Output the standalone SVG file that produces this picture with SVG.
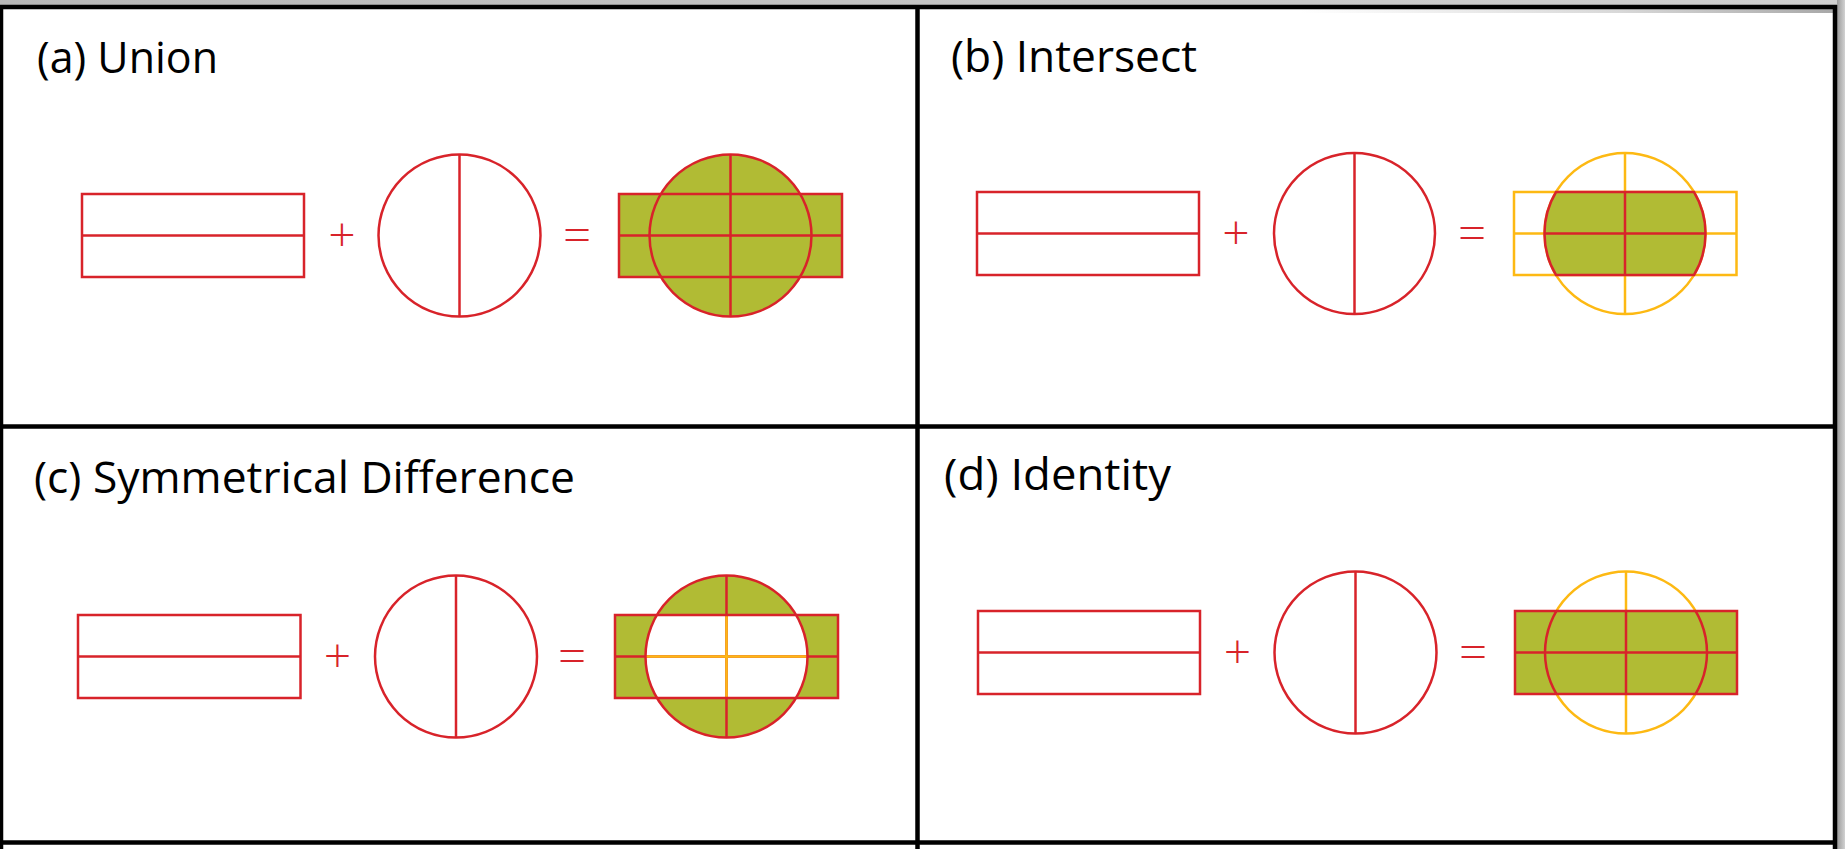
<svg xmlns="http://www.w3.org/2000/svg" width="1845" height="849" viewBox="0 0 1845 849">
<style>
.t{font-family:"Open Sans","Liberation Sans",sans-serif;font-size:44px;fill:#000}
.op{font-family:"Open Sans","Liberation Sans",sans-serif;font-size:48px;font-weight:300;fill:#d8232a;text-anchor:middle}
.eq{font-family:"Open Sans","Liberation Sans",sans-serif;font-size:50px;font-weight:300;fill:#d8232a;text-anchor:middle}
.r{fill:none;stroke:#d8232a;stroke-width:2.5}
.y{fill:none;stroke:#fdb913;stroke-width:2.5}
.g{fill:#b1bb34;stroke:none}
.frame{stroke:#000;stroke-width:4.5;fill:none}
</style>
<defs>
<linearGradient id="topg" x1="0" y1="0" x2="1" y2="0">
<stop offset="0" stop-color="#b8b8b8"/><stop offset="0.5" stop-color="#c4c4c4"/><stop offset="1" stop-color="#d0d0d0"/>
</linearGradient>
<linearGradient id="shd" x1="0" y1="0" x2="1" y2="0">
<stop offset="0" stop-color="#ffffff"/><stop offset="0.6" stop-color="#d8d8d8"/><stop offset="1" stop-color="#a8a8a8"/>
</linearGradient>
<linearGradient id="rg" x1="0" y1="0" x2="1" y2="0">
<stop offset="0" stop-color="#9a9a9a"/><stop offset="1" stop-color="#d2d2d2"/>
</linearGradient>
<clipPath id="clipD"><rect x="1515" y="611" width="222" height="83"/></clipPath>
</defs>
<rect width="1845" height="849" fill="#fff"/>
<rect x="0" y="0" width="1845" height="5" fill="url(#topg)"/>
<rect x="1300" y="9" width="535" height="4" fill="url(#shd)"/>
<rect x="1837" y="0" width="8" height="849" fill="url(#rg)"/>

<g id="frame">
<line class="frame" x1="0" y1="7" x2="1837" y2="7"/>
<line class="frame" x1="1" y1="5" x2="1" y2="849"/>
<line class="frame" x1="0" y1="426.5" x2="1835" y2="426.5"/>
<line class="frame" x1="0" y1="842.5" x2="1835" y2="842.5"/>
<line class="frame" x1="917.5" y1="5" x2="917.5" y2="849"/>
<line class="frame" x1="1835" y1="5" x2="1835" y2="849"/>
</g>

<g id="panel-a">
<text class="t" x="37" y="72.5" textLength="181" lengthAdjust="spacingAndGlyphs">(a) Union</text>
<rect class="r" x="82" y="194" width="222" height="83"/>
<line class="r" x1="82" y1="235.5" x2="304" y2="235.5"/>
<text class="op" x="342" y="252">+</text>
<circle class="r" cx="459.5" cy="235.5" r="81"/>
<line class="r" x1="459.5" y1="154.5" x2="459.5" y2="316.5"/>
<text class="eq" x="577" y="253">=</text>
<rect class="g" x="619" y="194" width="223" height="83"/>
<circle class="g" cx="730.5" cy="235.5" r="81"/>
<rect class="r" x="619" y="194" width="223" height="83"/>
<circle class="r" cx="730.5" cy="235.5" r="81"/>
<line class="r" x1="619" y1="235.5" x2="842" y2="235.5"/>
<line class="r" x1="730.5" y1="154.5" x2="730.5" y2="316.5"/>
</g>

<g id="panel-b">
<text class="t" x="951" y="72" textLength="246" lengthAdjust="spacingAndGlyphs">(b) Intersect</text>
<rect class="r" x="977" y="192" width="222" height="83"/>
<line class="r" x1="977" y1="233.5" x2="1199" y2="233.5"/>
<text class="op" x="1236" y="250">+</text>
<circle class="r" cx="1354.5" cy="233.5" r="80.5"/>
<line class="r" x1="1354.5" y1="153" x2="1354.5" y2="314"/>
<text class="eq" x="1472" y="251">=</text>
<rect class="y" x="1514" y="192" width="222.5" height="83"/>
<circle class="y" cx="1625" cy="233.5" r="80.5"/>
<line class="y" x1="1514" y1="233.5" x2="1736.5" y2="233.5"/>
<line class="y" x1="1625" y1="153" x2="1625" y2="314"/>
<path class="g" d="M1556,192 L1694,192 A80.5 80.5 0 0 1 1694,275 L1556,275 A80.5 80.5 0 0 1 1556,192 Z"/>
<path class="r" d="M1556,192 L1694,192 A80.5 80.5 0 0 1 1694,275 L1556,275 A80.5 80.5 0 0 1 1556,192 Z"/>
<line class="r" x1="1544.5" y1="233.5" x2="1705.5" y2="233.5"/>
<line class="r" x1="1625" y1="192" x2="1625" y2="275"/>
</g>

<g id="panel-c">
<text class="t" x="34" y="492.5" textLength="541" lengthAdjust="spacingAndGlyphs">(c) Symmetrical Difference</text>
<rect class="r" x="78" y="615" width="222.5" height="83"/>
<line class="r" x1="78" y1="656.5" x2="300.5" y2="656.5"/>
<text class="op" x="337.5" y="673">+</text>
<circle class="r" cx="456" cy="656.5" r="81"/>
<line class="r" x1="456" y1="575.5" x2="456" y2="737.5"/>
<text class="eq" x="572" y="674">=</text>
<rect class="g" x="615" y="615" width="223" height="83"/>
<circle class="g" cx="726.5" cy="656.5" r="81"/>
<path fill="#fff" d="M656.94,615 L796.06,615 A81 81 0 0 1 796.06,698 L656.94,698 A81 81 0 0 1 656.94,615 Z"/>
<line class="r" x1="615" y1="656.5" x2="838" y2="656.5"/>
<line class="r" x1="726.5" y1="575.5" x2="726.5" y2="737.5"/>
<line class="y" x1="645.5" y1="656.5" x2="807.5" y2="656.5"/>
<line class="y" x1="726.5" y1="615" x2="726.5" y2="698"/>
<rect class="r" x="615" y="615" width="223" height="83"/>
<circle class="r" cx="726.5" cy="656.5" r="81"/>
</g>

<g id="panel-d">
<text class="t" x="944" y="490" textLength="227" lengthAdjust="spacingAndGlyphs">(d) Identity</text>
<rect class="r" x="978" y="611" width="222" height="83"/>
<line class="r" x1="978" y1="652.5" x2="1200" y2="652.5"/>
<text class="op" x="1237.5" y="669">+</text>
<circle class="r" cx="1355.5" cy="652.5" r="81"/>
<line class="r" x1="1355.5" y1="571.5" x2="1355.5" y2="733.5"/>
<text class="eq" x="1473" y="670">=</text>
<circle class="y" cx="1626" cy="652.5" r="81"/>
<line class="y" x1="1626" y1="571.5" x2="1626" y2="733.5"/>
<rect class="g" x="1515" y="611" width="222" height="83"/>
<circle class="r" cx="1626" cy="652.5" r="81" clip-path="url(#clipD)"/>
<rect class="r" x="1515" y="611" width="222" height="83"/>
<line class="r" x1="1515" y1="652.5" x2="1737" y2="652.5"/>
<line class="r" x1="1626" y1="611" x2="1626" y2="694"/>
</g>
</svg>
